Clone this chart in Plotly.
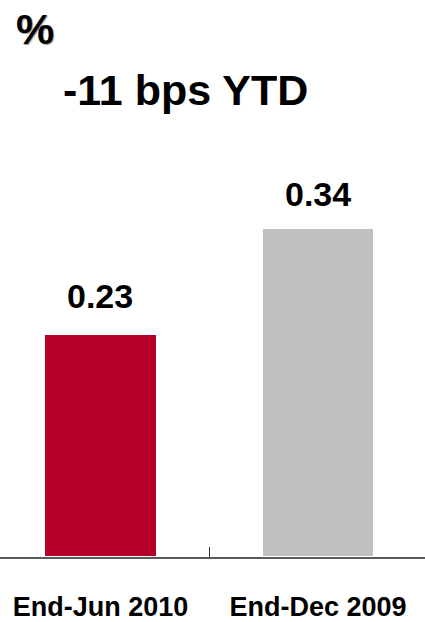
import plotly.graph_objects as go

# Data
categories = ["End-Jun 2010", "End-Dec 2009"]
values = [0.23, 0.34]
bar_colors = ["#B5002A", "#C0C0C0"]
label_shift = [18, 14]  # px between bar top and value label box

unit_label = "%"
headline = "-11 bps YTD"

FONT = "Liberation Sans, Arial, sans-serif"

fig = go.Figure()
fig.add_trace(go.Bar(
    x=categories,
    y=values,
    marker=dict(color=bar_colors, line=dict(width=0)),
    width=0.51,
    hoverinfo="skip",
))

# value labels above each bar
for c, v, s in zip(categories, values, label_shift):
    fig.add_annotation(
        x=c, y=v, xref="x", yref="y",
        text=f"<b>{v:.2f}</b>", showarrow=False,
        yanchor="bottom", yshift=s,
        font=dict(family=FONT, size=34, color="#000000"),
    )

fig.add_annotation(
    x=0, y=1.151, xref="paper", yref="paper", xanchor="left", xshift=14,
    yanchor="middle", yshift=2, text=f"<b>{unit_label}</b>", showarrow=False,
    font=dict(family=FONT, size=43, color="#000000", shadow="1px 1px 1px #9A9A9A"),
)
fig.add_annotation(
    x=185 / 425, y=1.0, xref="paper", yref="paper", xanchor="center",
    yanchor="middle", yshift=10, text=f"<b>{headline}</b>", showarrow=False,
    font=dict(family=FONT, size=43, color="#000000"),
)

fig.update_layout(
    width=425, height=622,
    template="none",
    margin=dict(l=0, r=0, t=100, b=65, autoexpand=False),
    paper_bgcolor="white", plot_bgcolor="white",
    showlegend=False,
    bargap=0,
    xaxis=dict(
        range=[-0.462, 1.492],
        automargin=False,
        showline=True, linecolor="#5A5A5A", linewidth=1.5,
        ticks="inside", tickson="boundaries", ticklen=10, tickcolor="#3A3A3A", tickwidth=1,
        showgrid=False, zeroline=False,
        tickfont=dict(family=FONT, size=27, color="#000000"),
        ticklabelstandoff=25,
        tickprefix="<b>", ticksuffix="</b>",
    ),
    yaxis=dict(
        range=[-0.0015, 0.4745],
        automargin=False,
        visible=False, showgrid=False, zeroline=False,
    ),
)

fig.write_html("out.html")
